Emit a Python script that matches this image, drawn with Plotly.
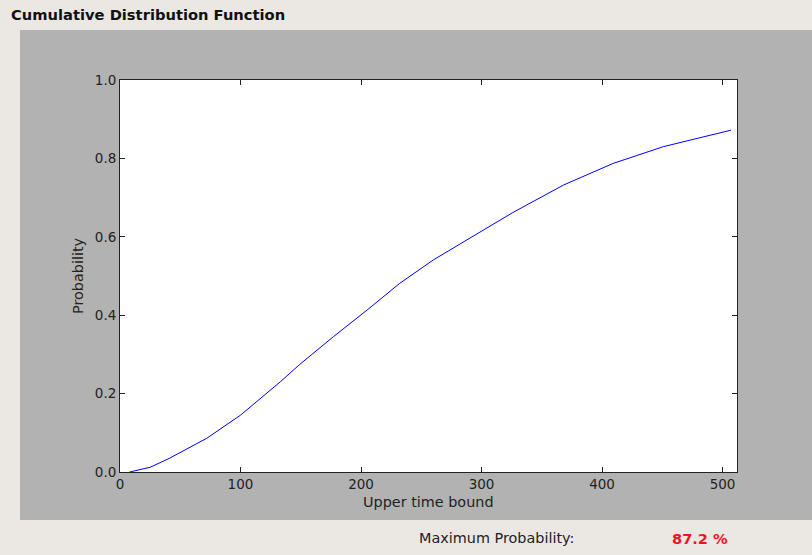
import plotly.graph_objects as go

# Data
upper_time = [8, 25, 41, 72, 100, 133, 149, 166, 177, 205, 232, 260, 288, 299, 315, 326, 368, 409, 451, 507]
probability = [0.0, 0.012, 0.035, 0.086, 0.145, 0.23, 0.274, 0.318, 0.345, 0.413, 0.481, 0.541, 0.592, 0.614, 0.643, 0.662, 0.732, 0.787, 0.83, 0.872]
x_ticks = [0, 100, 200, 300, 400, 500]
y_ticks = [0.0, 0.2, 0.4, 0.6, 0.8, 1.0]
max_prob_label = "87.2 %"

W, H = 812, 555
L, R, T, B = 120, 737, 80, 472
pw, ph = R - L, B - T
BG = "#ebe8e4"

def px(xp):
    return (xp - L) / pw

def py(yp):
    return (B - yp) / ph

font = "DejaVu Sans"
fig = go.Figure()
fig.add_trace(go.Scatter(x=upper_time, y=probability, mode="lines",
                         line=dict(color="#0000ff", width=1), hoverinfo="skip"))

axis_common = dict(showline=True, linecolor="#222222", linewidth=1, mirror="ticks",
                   ticks="inside", ticklen=5, tickcolor="#222222", tickwidth=1,
                   showgrid=False, zeroline=False,
                   tickfont=dict(family=font, size=13.5, color="#222222"))

fig.update_layout(
    width=W, height=H,
    margin=dict(l=L, r=W - R, t=T, b=H - B, pad=0),
    paper_bgcolor=BG,
    plot_bgcolor="#ffffff",
    showlegend=False,
    xaxis=dict(range=[0, 512], tickvals=x_ticks, ticktext=[str(v) for v in x_ticks], **axis_common),
    yaxis=dict(range=[0, 1], tickvals=y_ticks, ticktext=[f"{v:.1f}" for v in y_ticks], **axis_common),
    shapes=[
        dict(type="rect", xref="paper", yref="paper", x0=px(20), x1=px(812), y0=py(520), y1=py(30),
             fillcolor="#b2b2b2", line=dict(width=0), layer="below"),
        dict(type="rect", xref="paper", yref="paper", x0=0, x1=1, y0=0, y1=1,
             fillcolor="#ffffff", line=dict(width=0), layer="below"),
    ],
    annotations=[
        dict(text="<b>Cumulative Distribution Function</b>", xref="paper", yref="paper",
             x=px(9), y=py(14), xanchor="left", yanchor="middle", showarrow=False,
             font=dict(family=font, size=14.7, color="#111111")),
        dict(text="Upper time bound", xref="paper", yref="paper",
             x=px(428.5), y=py(502), xanchor="center", yanchor="middle", showarrow=False,
             font=dict(family=font, size=14.4, color="#222222")),
        dict(text="Probability", xref="paper", yref="paper", textangle=-90,
             x=px(78), y=py(276), xanchor="center", yanchor="middle", showarrow=False,
             font=dict(family=font, size=14.4, color="#222222")),
        dict(text="Maximum Probability:", xref="paper", yref="paper",
             x=px(416.5), y=py(538), xanchor="left", yanchor="middle", showarrow=False,
             font=dict(family=font, size=14.4, color="#222222")),
        dict(text="<b>" + max_prob_label + "</b>", xref="paper", yref="paper",
             x=px(729.5), y=py(538), xanchor="right", yanchor="middle", showarrow=False,
             font=dict(family=font, size=14.6, color="#f0141e")),
    ],
)

fig.write_html("out.html", config={"displayModeBar": False},
               post_script="document.body.style.margin='0';document.body.style.overflow='hidden';"
                           "document.body.style.background='" + BG + "';")
